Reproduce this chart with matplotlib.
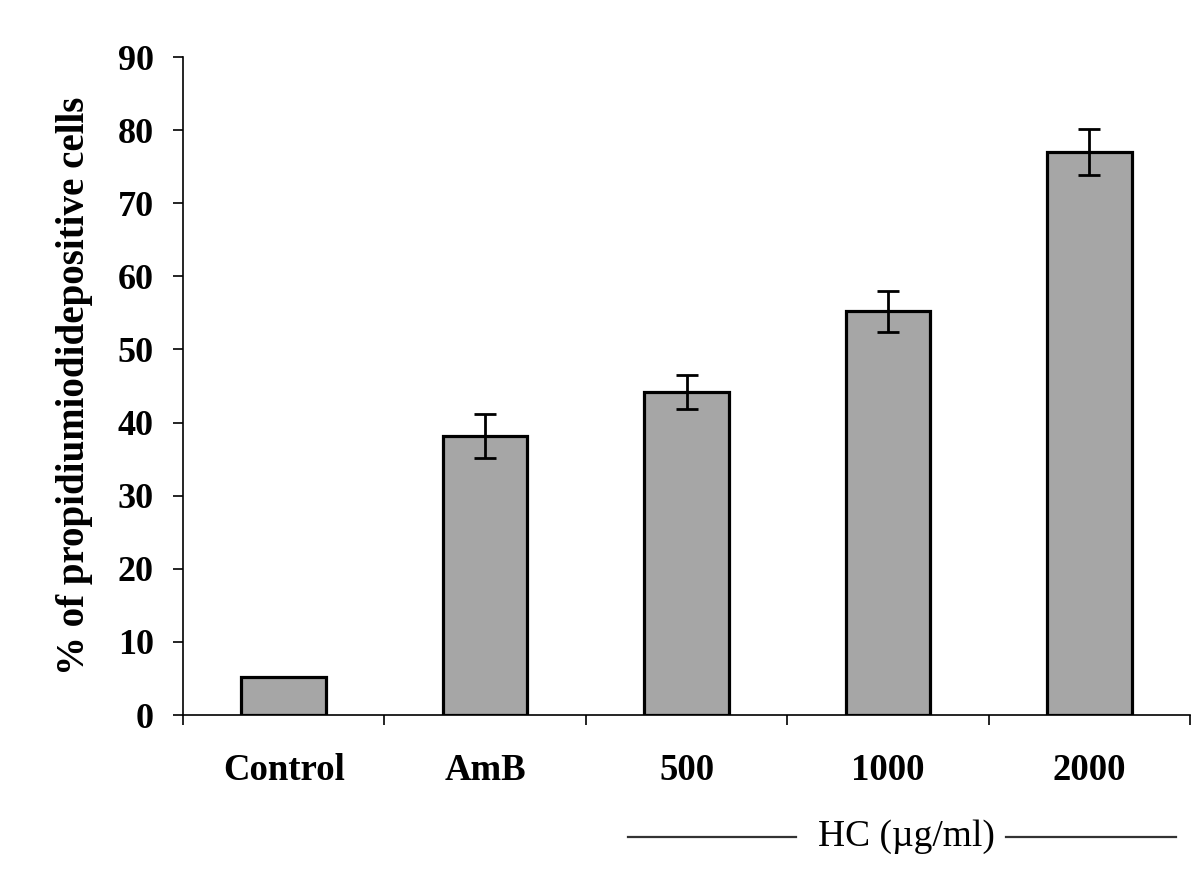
import matplotlib
matplotlib.use("Agg")
import matplotlib.pyplot as plt
from matplotlib.lines import Line2D

categories = ["Control", "AmB", "500", "1000", "2000"]
values = [5.2, 38.2, 44.2, 55.2, 77.0]
errors = [0.0, 3.0, 2.3, 2.8, 3.2]
yticks = [0, 10, 20, 30, 40, 50, 60, 70, 80, 90]
ylabel = "% of propidiumiodidepositive cells"
group_label = "HC (\u00b5g/ml)"

plt.rcParams['font.family'] = ['Liberation Serif', 'DejaVu Serif']

fig = plt.figure(figsize=(12, 8.72), dpi=100)
ax = fig.add_axes([0.1525, 0.180, 0.8392, 0.7546])

x = list(range(len(categories)))
ax.bar(x, values, width=0.42, color='#a6a6a6', edgecolor='black', linewidth=2.3, zorder=2)
ax.errorbar(x[1:], values[1:], yerr=errors[1:], fmt='none', ecolor='black',
            elinewidth=2.0, capsize=8, capthick=2.0, zorder=3)

ax.set_xlim(-0.5, len(categories) - 0.5)
ax.set_ylim(0, 90)
ax.set_yticks(yticks)
ax.set_yticklabels([str(t) for t in yticks], fontsize=26, fontweight='bold')
ax.tick_params(axis='y', direction='out', length=7, width=1.2, pad=14)

ax.set_xticks([i - 0.5 for i in range(len(categories) + 1)])
ax.set_xticklabels([])
ax.tick_params(axis='x', which='major', direction='out', length=7, width=1.2)
ax.set_xticks(x, minor=True)
ax.set_xticklabels(categories, minor=True, fontsize=26.5, fontweight='bold')
ax.tick_params(axis='x', which='minor', length=0, pad=27)

for s in ['top', 'right']:
    ax.spines[s].set_visible(False)
for s in ['left', 'bottom']:
    ax.spines[s].set_linewidth(1.2)

ax.set_ylabel(ylabel, fontsize=28, fontweight='bold', labelpad=18)

fig.text(0.755, 0.040, group_label, fontsize=27, ha='center', va='center')
fig.add_artist(Line2D([0.523, 0.663], [0.040, 0.040], color='#333333', lw=1.6))
fig.add_artist(Line2D([0.838, 0.980], [0.040, 0.040], color='#333333', lw=1.6))

fig.savefig("out.png", dpi=100)
